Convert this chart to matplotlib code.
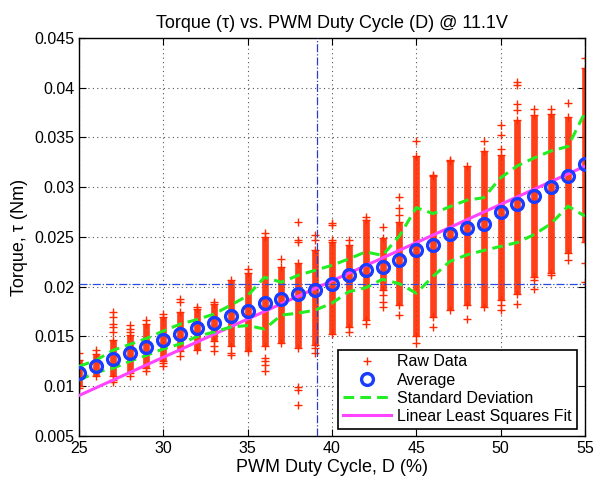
import numpy as np
import matplotlib
matplotlib.use('Agg')
import matplotlib.pyplot as plt
from matplotlib.ticker import FormatStrFormatter

plt.rcParams['font.family'] = ['Liberation Sans', 'DejaVu Sans']

# duty cycle steps (%)
duty = [25, 26, 27, 28, 29, 30, 31, 32, 33, 34, 35, 36, 37, 38, 39, 40,
        41, 42, 43, 44, 45, 46, 47, 48, 49, 50, 51, 52, 53, 54, 55]

# torque values below are in mNm, scaled to Nm when plotted
avg = [11.3, 12.0, 12.7, 13.35, 13.95, 14.65, 15.25, 15.85, 16.35, 17.05, 17.6,
       18.35, 18.8, 19.25, 19.65, 20.25, 21.15, 21.7, 21.95, 22.7, 23.65,
       24.2, 25.3, 25.95, 26.3, 27.5, 28.3, 29.1, 30.0, 31.1, 32.3]
std = [0.7, 0.6, 0.9, 0.85, 0.85, 0.9, 1.0, 0.85, 0.9, 1.1, 1.5,
       2.6, 1.65, 1.9, 2.0, 1.9, 1.65, 1.8, 1.2, 2.4, 4.3,
       3.15, 2.75, 2.75, 2.65, 3.45, 3.85, 3.85, 3.65, 3.0, 5.2]

# dense part of each raw-data column (where the markers overlap)
band_lo = [10.0, 11.0, 11.0, 11.3, 11.8, 12.5, 13.5, 13.6, 14.5, 14.0, 13.5,
           14.0, 14.3, 13.8, 14.1, 15.2, 16.0, 16.7, 19.7, 18.2, 15.0,
           17.0, 17.7, 18.2, 18.0, 18.7, 19.3, 21.0, 21.4, 23.4, 24.5]
band_hi = [12.6, 13.2, 14.6, 15.1, 16.3, 17.0, 17.5, 17.8, 18.3, 20.7, 21.4,
           25.0, 22.0, 22.4, 23.7, 24.5, 24.2, 26.7, 24.9, 26.5, 33.1,
           31.1, 32.6, 32.1, 33.6, 33.2, 36.8, 37.3, 37.4, 37.1, 42.0]

# isolated raw samples outside the dense bands
out_d = [25, 25, 26, 27, 27, 27, 27, 27, 27, 27, 28, 28, 28, 28, 29, 29,
         30, 30, 30, 31, 31, 31, 32, 33, 33, 33, 34, 34, 35,
         36, 36, 36, 36, 36, 37, 38, 38, 38, 38, 38, 38, 39, 39, 39, 39,
         40, 40, 40, 41, 41, 42, 42, 43, 43, 43, 43, 44, 44, 44, 44,
         45, 45, 46, 46, 47, 48, 49, 50, 50, 50, 50, 50,
         51, 51, 51, 51, 51, 52, 52, 52, 53, 53, 54, 54, 55, 55, 55]
out_v = [9.8, 13.3, 13.6, 10.4, 10.6, 15.5, 16.0, 16.3, 17.0, 17.5, 11.0, 15.5, 15.8, 16.2, 11.5, 16.7,
         12.0, 12.3, 17.3, 13.0, 18.5, 18.8, 18.0, 13.5, 14.0, 18.5, 13.1, 13.3, 21.8,
         11.5, 12.1, 12.5, 12.8, 25.4, 22.8, 8.1, 9.6, 9.96, 24.5, 24.7, 26.5, 13.3, 13.8, 24.7, 25.2,
         24.7, 26.2, 26.4, 15.5, 24.7, 16.3, 27.0, 18.0, 18.5, 19.2, 26.0, 17.2, 27.2, 27.9, 29.05,
         14.3, 34.6, 16.0, 31.2, 32.7, 16.8, 34.6, 17.7, 18.2, 33.8, 35.2, 36.3,
         18.3, 37.8, 38.4, 40.3, 40.6, 19.8, 20.7, 37.9, 21.2, 37.9, 22.7, 38.5, 20.5, 22.4, 43.0]

# least squares fit (Nm = slope * D + intercept), in mNm
fit_slope = 0.768
fit_intercept = -10.13

# operating point markers
target_torque = 20.3
target_duty = 39.1

d = np.array(duty, dtype=float)
s = 1e-3
avg_nm = np.array(avg) * s
std_nm = np.array(std) * s

red = '#ff2a00'
fig = plt.figure(figsize=(5.95, 4.79), dpi=100)
ax = fig.add_axes([0.1328, 0.0898, 0.8502, 0.8309])

ax.vlines(d, np.array(band_lo) * s, np.array(band_hi) * s, color=red,
          lw=4.8, zorder=2, capstyle='butt', alpha=0.9)
ax.plot(np.r_[d, d], np.r_[band_lo, band_hi] * s, '+', color=red, ms=5.5,
        mew=1, zorder=2)
ax.plot(out_d, np.array(out_v) * s, '+', color=red, ms=5.5, mew=1,
        zorder=2, label='Raw Data')

ax.axhline(target_torque * s, color='#2a4bdd', lw=0.9, ls='-.', zorder=3)
ax.axvline(target_duty, color='#2a3cc0', lw=0.9, ls='-.', zorder=3)

ax.plot(d, (fit_slope * d + fit_intercept) * s, color='#ff44ff', lw=2.2,
        zorder=4, label='Linear Least Squares Fit')
ax.plot(d, avg_nm + std_nm, color='#22ee22', lw=2.2, dashes=(3.5, 2), zorder=5,
        label='Standard Deviation')
ax.plot(d, avg_nm - std_nm, color='#22ee22', lw=2.2, dashes=(3.5, 2), zorder=5)
ax.plot(d, avg_nm, 'o', ms=8.5, mfc='none', mec='#1a3cff', mew=2.4, zorder=6,
        label='Average')

ax.set_xlim(25, 55)
ax.set_ylim(0.005, 0.045)
ax.set_xticks([25, 30, 35, 40, 45, 50, 55])
ax.set_yticks([0.005, 0.01, 0.015, 0.02, 0.025, 0.03, 0.035, 0.04, 0.045])
ax.yaxis.set_major_formatter(FormatStrFormatter('%g'))
ax.tick_params(direction='in', top=True, right=True, length=5, labelsize=11.5)
ax.grid(True, ls=(0, (1, 3)), color='#555555', lw=0.8)
ax.set_axisbelow(True)
for sp in ax.spines.values():
    sp.set_linewidth(1.0)

ax.set_title('Torque (\u03c4) vs. PWM Duty Cycle (D) @ 11.1V', fontsize=13, pad=7)
ax.set_xlabel('PWM Duty Cycle, D (%)', fontsize=13, labelpad=2)
ax.set_ylabel('Torque, \u03c4 (Nm)', fontsize=13, labelpad=4)

h, l = ax.get_legend_handles_labels()
order = [l.index('Raw Data'), l.index('Average'), l.index('Standard Deviation'),
         l.index('Linear Least Squares Fit')]
leg = ax.legend([h[i] for i in order], [l[i] for i in order], loc='lower right',
                bbox_to_anchor=(0.99, 0.01), fontsize=11.5, fancybox=False,
                framealpha=1, edgecolor='black', handlelength=3.0,
                borderpad=0.3, labelspacing=0.2, handletextpad=0.4,
                borderaxespad=0.2)
leg.get_frame().set_linewidth(1.2)

fig.savefig('out.png', dpi=100)
